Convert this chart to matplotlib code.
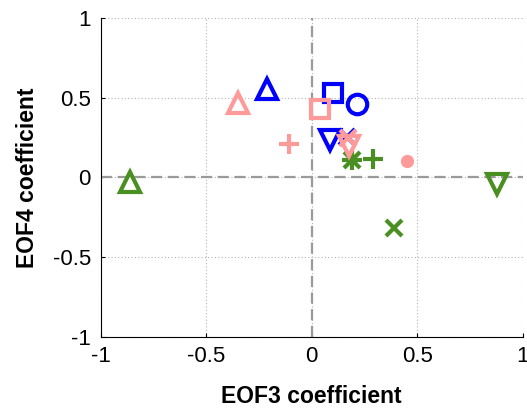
import matplotlib.pyplot as plt

# EOF3 / EOF4 coefficients per case, grouped by colour
blue_x = [-0.21, 0.10, 0.215, 0.085, 0.165]
blue_y = [0.555, 0.53, 0.46, 0.235, 0.255]
blue_m = ['^', 's', 'o', 'v', 'x']

pink_x = [-0.35, 0.04, -0.11, 0.17, 0.175, 0.45]
pink_y = [0.465, 0.43, 0.21, 0.25, 0.195, 0.10]
pink_m = ['^', 's', '+', 'x', 'v', '.']

green_x = [-0.86, 0.88, 0.19, 0.29, 0.39]
green_y = [-0.03, -0.04, 0.11, 0.115, -0.32]
green_m = ['^', 'v', '*', '+', 'x']

ticks = [-1, -0.5, 0, 0.5, 1]
tick_labels = ['-1', '-0.5', '0', '0.5', '1']

blue = '#0000ff'
pink = '#ff9a9a'
green = '#4a8f22'

plt.rcParams['font.family'] = ['Liberation Sans', 'DejaVu Sans']

fig = plt.figure(figsize=(5.27, 4.11), dpi=100)
ax = fig.add_axes([0.191, 0.181, 0.801, 0.775])

ax.axhline(0, color='#9a9a9a', ls=(0, (5, 2.5)), lw=1.6, zorder=1)
ax.axvline(0, color='#9a9a9a', ls=(0, (5, 2.5)), lw=1.6, zorder=1)

sizes = {'^': 15, 'v': 15, 's': 12.5, 'o': 14, '+': 15, 'x': 12}


def draw(xs, ys, ms, c):
    for x, y, m in zip(xs, ys, ms):
        if m == '.':
            ax.plot(x, y, 'o', color=c, ms=8.5, zorder=3)
        elif m == '*':
            # asterisk drawn as overlaid plus and cross
            ax.plot(x, y, '+', color=c, ms=14, mew=3, zorder=3)
            ax.plot(x, y, 'x', color=c, ms=11, mew=3, zorder=3)
        else:
            ax.plot(x, y, m, color=c, mfc='none', mec=c, ms=sizes[m],
                    mew=3, zorder=3)


draw(blue_x, blue_y, blue_m, blue)
draw(green_x, green_y, green_m, green)
draw(pink_x, pink_y, pink_m, pink)

ax.set_xlim(-1, 1)
ax.set_ylim(-1, 1)
ax.set_xticks(ticks)
ax.set_yticks(ticks)
ax.set_xticklabels(tick_labels)
ax.set_yticklabels(tick_labels)
ax.grid(True, ls=(0, (1, 2)), color='#b4b4b4', lw=0.8)
ax.set_axisbelow(True)
ax.spines['top'].set_visible(False)
ax.spines['right'].set_visible(False)
ax.tick_params(direction='in', length=3, labelsize=16, pad=7)
ax.set_xlabel('EOF3 coefficient', fontsize=16.5, fontweight='bold', labelpad=13)
ax.set_ylabel('EOF4 coefficient', fontsize=16.5, fontweight='bold', labelpad=10)

fig.savefig('out.png', dpi=100)
